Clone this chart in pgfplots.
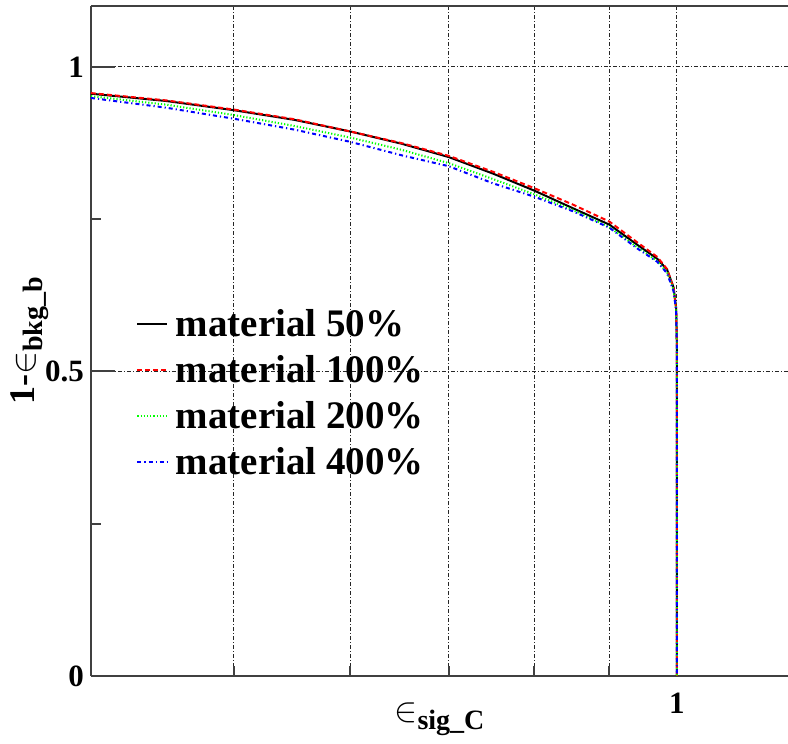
\documentclass[border=0pt]{standalone}
\usepackage{fontspec}
\setmainfont{Liberation Serif}
\usepackage{pgfplots}
\pgfplotsset{compat=1.18}
\begin{document}
\begin{tikzpicture}
\begin{axis}[
 scale only axis, width=348.5pt, height=335pt,
 xmode=log, xmin=0.4, xmax=1.19, ymin=0, ymax=1.1,
 axis x line*=box, axis y line*=left,
 axis line style={line width=1pt, black!75},
 xtick={1}, xticklabels={1}, minor xtick={0.5,0.6,0.7,0.8,0.9},
 ytick={0,0.5,1}, yticklabels={0,0.5,1}, minor ytick={0.25,0.75},
 xmajorgrids, xminorgrids, ymajorgrids,
 grid style={black!85, line width=0.5pt, dash pattern=on 2pt off 1pt on 0.5pt off 1pt},
 major tick length=12pt, minor tick length=5pt,
 every tick/.style={line width=1pt, black!75},
 xtick pos=bottom, ytick pos=left,
 tick label style={font=\fontsize{15.5}{15.5}\selectfont\bfseries},
 xticklabel style={yshift=-5pt},
 xlabel={$\in$\raisebox{-0.5ex}{\fontsize{14}{14}\selectfont\bfseries sig\_C}},
 ylabel={1-$\in$\raisebox{-0.5ex}{\fontsize{14}{14}\selectfont\bfseries bkg\_b}},
 xlabel style={at={(axis description cs:0.5,-0.065)}, anchor=center, font=\fontsize{18}{18}\selectfont\bfseries},
 ylabel style={at={(axis description cs:-0.0875,0.5)}, anchor=center, font=\fontsize{18}{18}\selectfont\bfseries},
 legend style={at={(axis description cs:0.0645,0.423)}, anchor=west, draw=none, fill=none,
   font=\fontsize{19.5}{19.5}\selectfont\bfseries, row sep=2pt, inner sep=0pt,
   nodes={inner ysep=3pt, inner xsep=3.75pt, text height=14pt, text depth=1pt}},
 legend cell align=left,
 legend image code/.code={\draw[#1] plot coordinates {(0pt,0pt) (15pt,0pt)};},
]
\addplot[black, line width=1pt] table {
0.40 0.956
0.45 0.944
0.50 0.929
0.55 0.913
0.60 0.894
0.65 0.874
0.70 0.852
0.75 0.825
0.80 0.797
0.85 0.768
0.90 0.741
0.94 0.708
0.97 0.685
0.985 0.667
0.995 0.638
0.999 0.605
1.000 0.550
1.000 0.000
};
\addlegendentry{material 50\%}
\addplot[red, line width=1pt, dash pattern=on 2.5pt off 1.5pt] table {
0.40 0.957
0.45 0.945
0.50 0.930
0.55 0.914
0.60 0.894
0.65 0.875
0.70 0.854
0.75 0.828
0.80 0.801
0.85 0.774
0.90 0.746
0.94 0.712
0.97 0.688
0.985 0.668
0.995 0.637
0.999 0.603
1.000 0.550
1.000 0.000
};
\addlegendentry{material 100\%}
\addplot[green, line width=1pt, dash pattern=on 0.6pt off 1pt] table {
0.40 0.952
0.45 0.938
0.50 0.921
0.55 0.903
0.60 0.884
0.65 0.864
0.70 0.842
0.75 0.816
0.80 0.791
0.85 0.765
0.90 0.737
0.94 0.704
0.97 0.681
0.985 0.663
0.995 0.634
0.999 0.602
1.000 0.550
1.000 0.000
};
\addlegendentry{material 200\%}
\addplot[blue, line width=1pt, dash pattern=on 2pt off 1.5pt on 0.6pt off 1.5pt] table {
0.40 0.949
0.45 0.933
0.50 0.915
0.55 0.897
0.60 0.877
0.65 0.855
0.70 0.837
0.75 0.809
0.80 0.787
0.85 0.763
0.90 0.736
0.94 0.702
0.97 0.680
0.985 0.661
0.995 0.632
0.999 0.600
1.000 0.550
1.000 0.000
};
\addlegendentry{material 400\%}
\coordinate (sw) at (rel axis cs:0,0);
\coordinate (ne) at (rel axis cs:1,1);
\end{axis}
\pgfresetboundingbox
\useasboundingbox ([xshift=-45.5pt,yshift=-34pt]sw) rectangle ([yshift=3pt]ne);
\end{tikzpicture}
\end{document}
